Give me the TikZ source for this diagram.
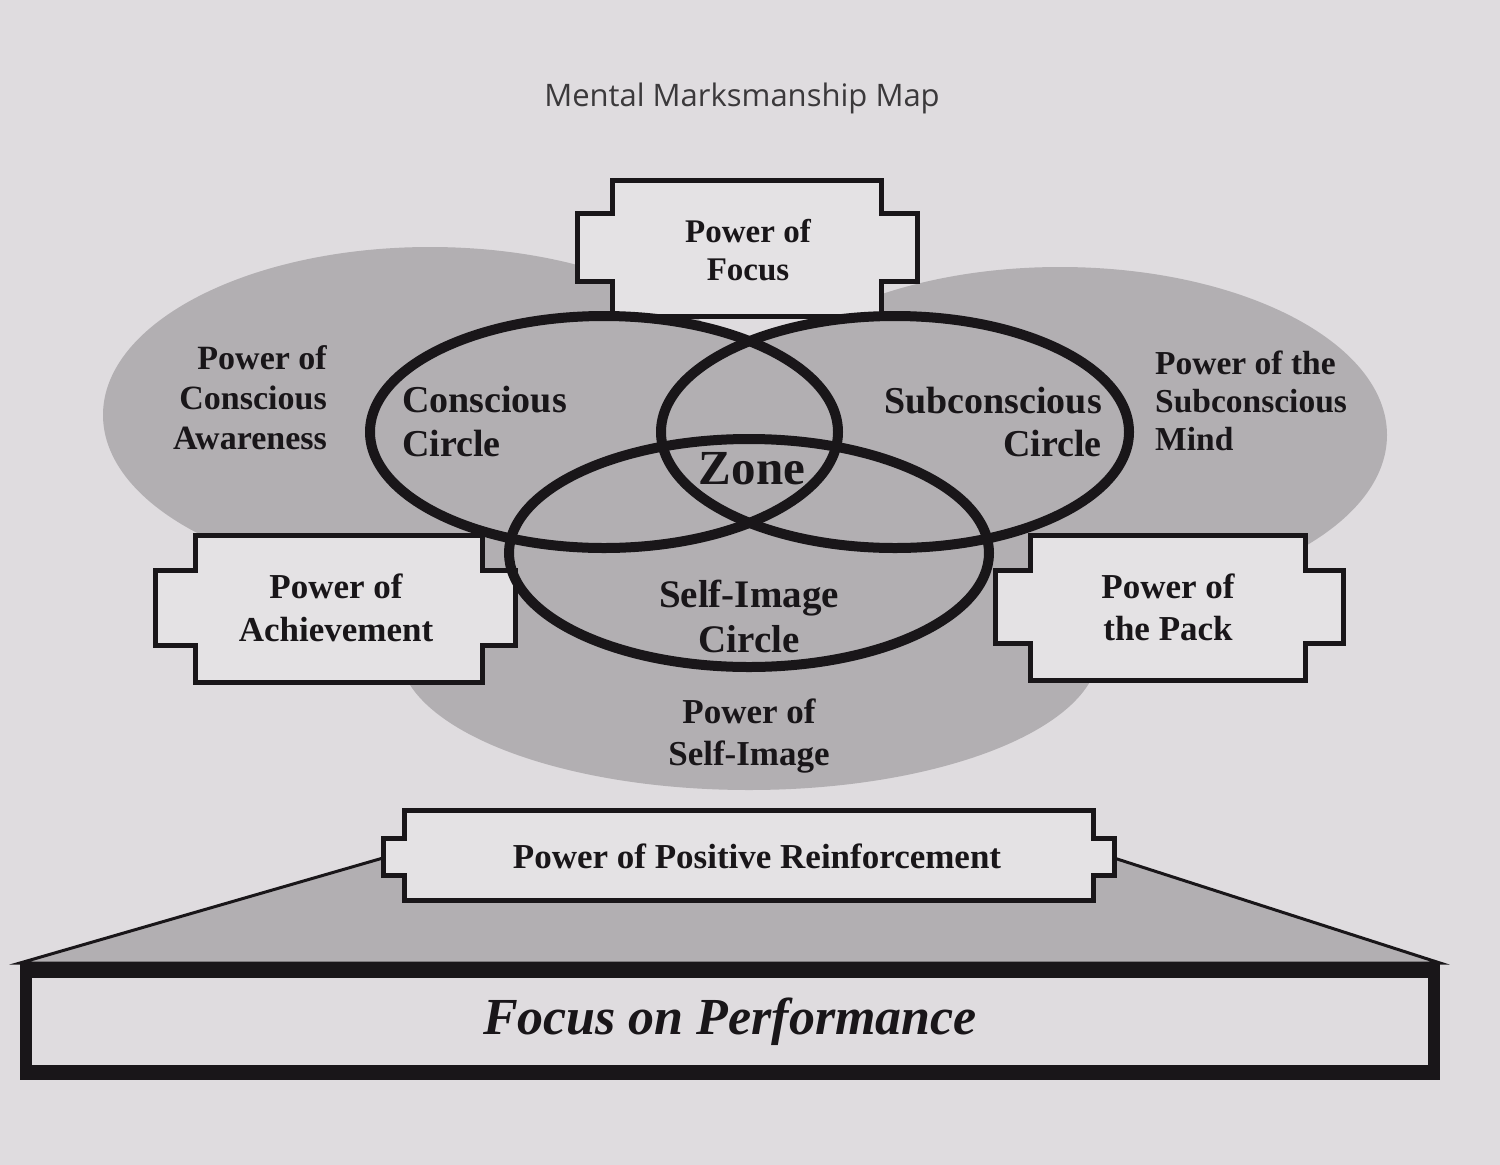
\documentclass[tikz,border=0pt]{standalone}
\usepackage{fontspec}
\setmainfont{Liberation Serif}
\newfontfamily\titlefont{Open Sans}
\definecolor{pagebg}{RGB}{223,220,223}
\definecolor{shade}{RGB}{178,175,178}
\definecolor{boxfill}{RGB}{228,226,228}
\definecolor{ink}{RGB}{25,22,25}
\newcommand\fs[2]{\fontsize{#1}{#2}\selectfont\bfseries}
\newcommand\notchbox[8]{%
  \filldraw[boxstyle] (#1,#3) -- (#2,#3) -- (#2,#7) -- (#6,#7) -- (#6,#8) -- (#2,#8) -- (#2,#4) -- (#1,#4) -- (#1,#8) -- (#5,#8) -- (#5,#7) -- (#1,#7) -- cycle;}
\tikzset{
  boxstyle/.style={fill=boxfill, draw=ink, line width=5pt, miter limit=10},
  ring/.style={draw=ink, line width=10pt},
  blob/.style={fill=shade},
  lbl/.style={text=ink, inner sep=0pt, align=center},
}
\begin{document}
\begin{tikzpicture}[x=1pt,y=-1pt]
\useasboundingbox (0,0) rectangle (1500,1165);
\fill[pagebg] (0,0) rectangle (1500,1165);

% title
\node[text=ink!85, inner sep=0pt, font=\titlefont\fontsize{31}{36}\selectfont] (title) at (742,98) {Mental Marksmanship Map};

% gray regions
\fill[blob] (430,415) ellipse [x radius=327pt, y radius=168pt];
\fill[blob] (1060,435) ellipse [x radius=327pt, y radius=168pt];
\fill[blob] (749,650) ellipse [x radius=350pt, y radius=140pt];
\fill[blob] (604,432) ellipse [x radius=234pt, y radius=116pt];
\fill[blob] (895,432) ellipse [x radius=234pt, y radius=116pt];
\fill[blob] (749,553) ellipse [x radius=240pt, y radius=114pt];

% base platform
\filldraw[fill=shade, draw=ink, line width=3pt, line join=miter] (383,858) -- (20,963) -- (1440,963) -- (1114,858) -- cycle;
\fill[ink] (20,962) rectangle (1440,1080);
\fill[pagebg] (32,978) rectangle (1428,1065);

% boxes
\notchbox{612}{881}{180}{316}{577}{917}{213}{281}
\notchbox{195}{482}{535}{682}{155}{515}{570}{645}
\notchbox{1030}{1305}{535}{680}{995}{1343}{570}{643}
\notchbox{404}{1093}{810}{900}{383}{1114}{838}{875}

% circles
\draw[ring] (604,432) ellipse [x radius=234pt, y radius=116pt];
\draw[ring] (895,432) ellipse [x radius=234pt, y radius=116pt];
\draw[ring] (749,553) ellipse [x radius=240pt, y radius=114pt];

% labels
\node[lbl, font=\fs{33}{38}] (focus) at (748,250) {Power of\\Focus};
\node[lbl, align=right, anchor=east, font=\fs{34}{40}] (pca) at (327,398) {Power of\\Conscious\\Awareness};
\node[lbl, align=left, anchor=west, font=\fs{38}{44}] (cc) at (402,421) {Conscious\\Circle};
\node[lbl, align=right, anchor=east, font=\fs{38}{43}] (sc) at (1102,422) {Subconscious\\Circle};
\node[lbl, align=left, anchor=west, font=\fs{33.5}{38}] (psm) at (1155,401) {Power of the\\Subconscious\\Mind};
\node[lbl, font=\fs{49}{54}] (zone) at (752,469) {Zone};
\node[lbl, font=\fs{39}{45}] (sic) at (749,616) {Self-Image\\Circle};
\node[lbl, font=\fs{35}{42}] (psi) at (749,736) {Power of\\Self-Image};
\node[lbl, font=\fs{35}{43}] (pa) at (336,608) {Power of\\Achievement};
\node[lbl, font=\fs{35}{42}] (pp) at (1168,607) {Power of\\the Pack};
\node[lbl, font=\fs{35}{40}] (ppr) at (757,856) {Power of Positive Reinforcement};
\node[lbl, font=\fontsize{52}{60}\selectfont\bfseries\itshape] (fop) at (730,1022) {Focus on Performance};
\end{tikzpicture}
\end{document}
